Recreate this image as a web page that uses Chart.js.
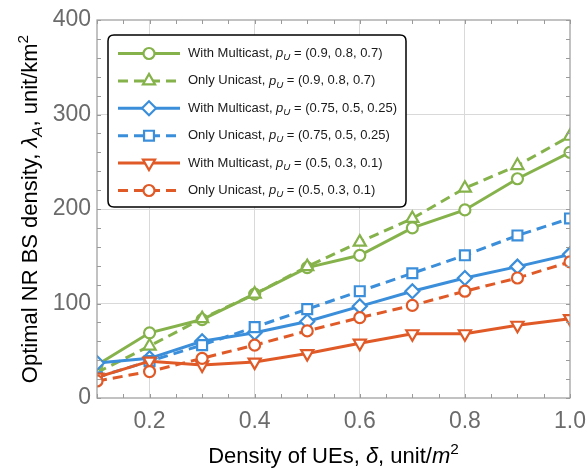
<!DOCTYPE html>
<html><head><meta charset="utf-8">
<script src="https://cdn.jsdelivr.net/npm/chart.js@4/dist/chart.umd.min.js"></script>
<style>html,body{margin:0;padding:0;background:#fff}#wrap{width:587px;height:468px;position:relative}</style>
</head><body><div id="wrap"><canvas id="c"></canvas></div>
<script>
// ---- data ----
const xValues = [0.1, 0.2, 0.3, 0.4, 0.5, 0.6, 0.7, 0.8, 0.9, 1.0];
const greenMulticast = [35, 69, 83, 110, 138, 151, 180, 199, 232, 260];
const greenUnicast   = [27, 55, 84, 110, 139, 165, 190, 222, 246, 277];
const blueMulticast  = [37, 42, 60, 69, 81, 97, 113, 127, 139, 152];
const blueUnicast    = [22, 39, 56, 75, 94, 113, 132, 151, 172, 190];
const orangeMulticast= [22, 39, 35, 38, 47, 58, 68, 68, 77, 84];
const orangeUnicast  = [18, 28, 42, 56, 71, 85, 98, 113, 127, 144];
const legendPrefixes = ['With Multicast, ', 'Only Unicast, ', 'With Multicast, ', 'Only Unicast, ', 'With Multicast, ', 'Only Unicast, '];
const legendSuffixes = [' = (0.9, 0.8, 0.7)', ' = (0.9, 0.8, 0.7)', ' = (0.75, 0.5, 0.25)', ' = (0.75, 0.5, 0.25)', ' = (0.5, 0.3, 0.1)', ' = (0.5, 0.3, 0.1)'];
const yTickValues = [0, 100, 200, 300, 400];
const xTickLabels = ['0.2', '0.4', '0.6', '0.8', '1.0'];

const FONT = '"Liberation Sans", Arial, Helvetica, sans-serif';
const GREEN = '#86B24B', BLUE = '#3B8EDA', ORANGE = '#E05A28';

function series(data, color, dashed, style, rot, r) {
  return {
    data: xValues.map((x, i) => ({x: x, y: data[i]})),
    borderColor: color, backgroundColor: '#fff',
    borderWidth: 3, borderDash: dashed ? [10, 6] : [],
    pointStyle: style, pointRotation: rot, pointRadius: r, pointHoverRadius: r,
    pointBorderWidth: 2.2, pointBackgroundColor: '#fff', pointBorderColor: color,
    tension: 0, fill: false
  };
}
const datasets = [
  series(greenMulticast, GREEN, false, 'circle', 0, 5.5),
  series(greenUnicast, GREEN, true, 'triangle', 0, 7),
  series(blueMulticast, BLUE, false, 'rectRot', 0, 7),
  series(blueUnicast, BLUE, true, 'rect', 0, 7),
  series(orangeMulticast, ORANGE, false, 'triangle', 180, 7),
  series(orangeUnicast, ORANGE, true, 'circle', 0, 5.5)
];
datasets.forEach((d, i) => { d.order = datasets.length - i; });

function fontOf(r, base) { return (r.italic ? 'italic ' : '') + (base * (r.scale || 1)) + 'px ' + FONT; }
function drawRuns(ctx, runs, x, y, base, align) {
  let w = 0;
  runs.forEach(r => { ctx.font = fontOf(r, base); r.w = ctx.measureText(r.t).width; w += r.w; });
  let cx = align === 'center' ? x - w / 2 : x;
  runs.forEach(r => { ctx.font = fontOf(r, base); ctx.fillText(r.t, cx, y + (r.dy || 0) * base); cx += r.w; });
}

function drawMarker(ctx, style, radius, rotation, x, y) {
  if (Chart.helpers && Chart.helpers.drawPoint) {
    Chart.helpers.drawPoint(ctx, {pointStyle: style, radius: radius, rotation: rotation, borderWidth: ctx.lineWidth}, x, y);
  }
}

const decor = {
  id: 'decor',
  afterDatasetsDraw(chart) {
    const ctx = chart.ctx, a = chart.chartArea, xs = chart.scales.x, ys = chart.scales.y;
    ctx.save();
    ctx.strokeStyle = '#9a9a9a'; ctx.lineWidth = 1.2;
    ctx.strokeRect(a.left, a.top, a.right - a.left, a.bottom - a.top);
    ctx.lineWidth = 1;
    const L = 4;
    for (let k = 0; k <= 18; k++) {
      const px = Math.round(xs.getPixelForValue(0.1 + k * 0.05)) + 0.5;
      ctx.beginPath(); ctx.moveTo(px, a.bottom); ctx.lineTo(px, a.bottom - L);
      ctx.moveTo(px, a.top); ctx.lineTo(px, a.top + L); ctx.stroke();
    }
    for (let v = 0; v <= 400; v += 20) {
      const py = Math.round(ys.getPixelForValue(v)) + 0.5;
      ctx.beginPath(); ctx.moveTo(a.left, py); ctx.lineTo(a.left + L, py);
      ctx.moveTo(a.right, py); ctx.lineTo(a.right - L, py); ctx.stroke();
    }
    ctx.restore();
  },
  afterDraw(chart) {
    const ctx = chart.ctx, a = chart.chartArea;
    ctx.save();
    // legend box
    const bx = 108, by = 35, bw = 298, bh = 172, rr = 6;
    ctx.beginPath();
    ctx.moveTo(bx + rr, by); ctx.lineTo(bx + bw - rr, by); ctx.quadraticCurveTo(bx + bw, by, bx + bw, by + rr);
    ctx.lineTo(bx + bw, by + bh - rr); ctx.quadraticCurveTo(bx + bw, by + bh, bx + bw - rr, by + bh);
    ctx.lineTo(bx + rr, by + bh); ctx.quadraticCurveTo(bx, by + bh, bx, by + bh - rr);
    ctx.lineTo(bx, by + rr); ctx.quadraticCurveTo(bx, by, bx + rr, by); ctx.closePath();
    ctx.fillStyle = '#fff'; ctx.fill();
    ctx.strokeStyle = '#000'; ctx.lineWidth = 1.5; ctx.stroke();
    chart.data.datasets.forEach((d, i) => {
      const y = 53.5 + i * 27.4;
      ctx.save();
      ctx.strokeStyle = d.borderColor; ctx.lineWidth = d.borderWidth; ctx.setLineDash(d.borderDash);
      ctx.beginPath(); ctx.moveTo(118, y); ctx.lineTo(180, y); ctx.stroke();
      ctx.setLineDash([]);
      ctx.fillStyle = '#fff'; ctx.strokeStyle = d.borderColor; ctx.lineWidth = d.pointBorderWidth;
      drawMarker(ctx, d.pointStyle, d.pointRadius, d.pointRotation, 149, y);
      ctx.restore();
      ctx.fillStyle = '#1a1a1a'; ctx.textBaseline = 'middle';
      drawRuns(ctx, [
        {t: legendPrefixes[i]}, {t: 'p', italic: true}, {t: 'U', italic: true, scale: 0.75, dy: 0.3}, {t: legendSuffixes[i]}
      ], 188, y, 13, 'left');
    });
    // axis titles
    ctx.fillStyle = '#000'; ctx.textBaseline = 'alphabetic';
    drawRuns(ctx, [
      {t: 'Density of UEs, '}, {t: '\u03B4', italic: true}, {t: ', unit/'}, {t: 'm', italic: true}, {t: '2', scale: 0.7, dy: -0.42}
    ], (a.left + a.right) / 2, 463, 22, 'center');
    ctx.save();
    ctx.translate(37, (a.top + a.bottom) / 2);
    ctx.rotate(-Math.PI / 2);
    drawRuns(ctx, [
      {t: 'Optimal NR BS density, '}, {t: '\u03BB', italic: true}, {t: 'A', italic: true, scale: 0.7, dy: 0.22}, {t: ', unit/km'}, {t: '2', scale: 0.7, dy: -0.42}
    ], 0, 0, 22, 'center');
    ctx.restore();
    ctx.restore();
  }
};

new Chart(document.getElementById('c'), {
  type: 'line',
  data: { datasets: datasets },
  options: {
    responsive: true, maintainAspectRatio: false, animation: false,
    layout: { padding: { left: 0, right: 17, top: 20, bottom: 0 } },
    plugins: { legend: { display: false }, tooltip: { enabled: false } },
    scales: {
      x: {
        type: 'linear', min: 0.1, max: 1.0,
        afterBuildTicks: s => { s.ticks = xValues.map(v => ({value: v})); },
        ticks: {
          autoSkip: false, maxRotation: 0, padding: 10, color: '#6b6b6b',
          font: { family: FONT, size: 23 },
          callback: v => { const k = Math.round(v * 10); return (k % 2 === 0) ? xTickLabels[k / 2 - 1] : ''; }
        },
        grid: {
          drawTicks: false, lineWidth: 1,
          color: c => { const k = Math.round(c.tick.value * 10); return (k % 2 === 0 && k < 10) ? '#d9d9d9' : 'rgba(0,0,0,0)'; }
        },
        border: { display: false },
        afterFit: s => { s.height = 70; s.paddingLeft = 0; s.paddingRight = 0; }
      },
      y: {
        min: 0, max: 400,
        afterBuildTicks: s => { s.ticks = yTickValues.map(v => ({value: v})); },
        ticks: { padding: 6, color: '#6b6b6b', font: { family: FONT, size: 23 } },
        grid: {
          drawTicks: false, lineWidth: 1,
          color: c => (c.tick.value > 0 && c.tick.value < 400) ? '#d9d9d9' : 'rgba(0,0,0,0)'
        },
        border: { display: false },
        afterFit: s => { s.width = 97; s.paddingTop = 0; s.paddingBottom = 0; }
      }
    }
  },
  plugins: [decor]
});
</script>
</body></html>
